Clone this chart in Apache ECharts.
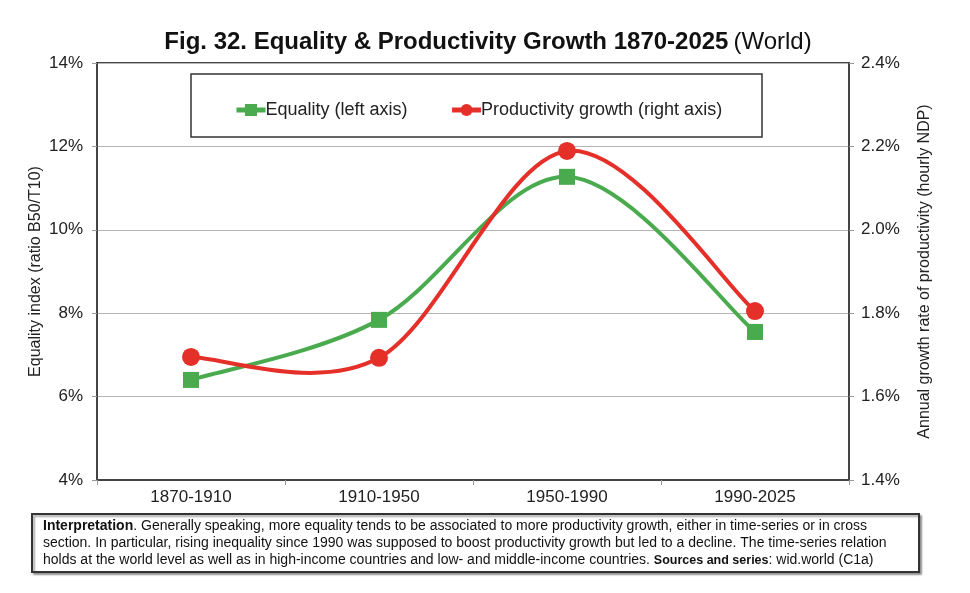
<!DOCTYPE html>
<html>
<head>
<meta charset="utf-8">
<script src="https://cdn.jsdelivr.net/npm/echarts@6/dist/echarts.min.js"></script>
<style>
  html, body { margin: 0; padding: 0; background: #fff; }
  #chart { width: 970px; height: 593px; }
</style>
</head>
<body>
<div id="chart"></div>
<script>
var categories = ['1870-1910', '1910-1950', '1950-1990', '1990-2025'];
var equality = [6.40, 7.84, 11.27, 7.55];
var productivity = [1.695, 1.693, 2.189, 1.805];

var green = '#4aab4e';
var red = '#e5302a';
var font = 'Liberation Sans, Arial, sans-serif';

var chart = echarts.init(document.getElementById('chart'));

// Excel-style smoothed line: cardinal spline through the points projected by the axes
function curveRenderer(values, color) {
    return function (params, api) {
        if (params.dataIndex !== 0) return;
        var pts = values.map(function (v, i) { return api.coord([i, v]); });
        var n = pts.length;
        var d = 'M' + pts[0][0] + ',' + pts[0][1];
        for (var i = 0; i < n - 1; i++) {
            var pa = pts[Math.max(i - 1, 0)], p0 = pts[i], p1 = pts[i + 1], pb = pts[Math.min(i + 2, n - 1)];
            var c1 = [p0[0] + (p1[0] - pa[0]) / 6, p0[1] + (p1[1] - pa[1]) / 6];
            var c2 = [p1[0] - (pb[0] - p0[0]) / 6, p1[1] - (pb[1] - p0[1]) / 6];
            d += ' C' + c1[0] + ',' + c1[1] + ' ' + c2[0] + ',' + c2[1] + ' ' + p1[0] + ',' + p1[1];
        }
        return {
            type: 'path',
            shape: { pathData: d },
            style: { fill: 'none', stroke: color, lineWidth: 4, lineJoin: 'round' }
        };
    };
}

var option = {
    backgroundColor: '#fff',
    textStyle: { fontFamily: font },
    title: {
        text: '{b|Fig. 32. Equality & Productivity Growth 1870-2025} {n|(World)}',
        left: 483,
        top: 25,
        textAlign: 'center',
        textStyle: {
            rich: {
                b: { fontSize: 24, fontWeight: 'bold', color: '#111', fontFamily: font },
                n: { fontSize: 24, fontWeight: 'normal', color: '#111', fontFamily: font }
            }
        }
    },
    legend: {
        left: 229,
        top: 96,
        itemWidth: 29,
        itemHeight: 15,
        itemGap: 42,
        lineStyle: { opacity: 1, width: 5 },
        textStyle: { fontSize: 18, color: '#222', fontFamily: font, padding: [0, 0, 0, -5] },
        data: ['Equality (left axis)', 'Productivity growth (right axis)']
    },
    grid: {
        left: 97, right: 121, top: 63, bottom: 113,
        show: true, borderColor: '#444', borderWidth: 2
    },
    xAxis: {
        type: 'category',
        data: categories,
        boundaryGap: true,
        axisLine: { lineStyle: { color: '#444', width: 2 } },
        axisTick: { show: true, length: 5, lineStyle: { color: '#999' } },
        axisLabel: { fontSize: 17, color: '#222', margin: 9 }
    },
    yAxis: [{
        type: 'value',
        min: 4, max: 14, interval: 2,
        name: 'Equality index (ratio B50/T10)',
        nameLocation: 'middle',
        nameGap: 53,
        nameMoveOverlap: false,
        nameTextStyle: { fontSize: 16, color: '#222' },
        axisLine: { show: true, lineStyle: { color: '#444', width: 2 } },
        axisTick: { show: true, length: 5, lineStyle: { color: '#999' } },
        axisLabel: { fontSize: 17, color: '#222', formatter: '{value}%', margin: 14 },
        splitLine: { lineStyle: { color: '#b5b5b5', width: 1 } }
    }, {
        type: 'value',
        min: 1.4, max: 2.4, interval: 0.2,
        name: 'Annual growth rate of productivity (hourly NDP)',
        nameLocation: 'middle',
        nameGap: 68,
        nameRotate: 90,
        nameTextStyle: { fontSize: 16, color: '#222' },
        axisLine: { show: true, lineStyle: { color: '#444', width: 2 } },
        axisTick: { show: true, length: 5, lineStyle: { color: '#999' } },
        axisLabel: {
            fontSize: 17, color: '#222', margin: 12,
            formatter: function (v) { return v.toFixed(1) + '%'; }
        },
        splitLine: { show: false }
    }],
    series: [{
        name: 'equality-curve',
        type: 'custom',
        yAxisIndex: 0,
        silent: true,
        data: equality.map(function (v, i) { return [i, v]; }),
        renderItem: curveRenderer(equality, green),
        z: 2
    }, {
        name: 'productivity-curve',
        type: 'custom',
        yAxisIndex: 1,
        silent: true,
        data: productivity.map(function (v, i) { return [i, v]; }),
        renderItem: curveRenderer(productivity, red),
        z: 3
    }, {
        name: 'Equality (left axis)',
        type: 'line',
        yAxisIndex: 0,
        data: equality,
        symbol: 'rect',
        symbolSize: 16,
        lineStyle: { color: green, width: 4, opacity: 0 },
        itemStyle: { color: green },
        z: 4
    }, {
        name: 'Productivity growth (right axis)',
        type: 'line',
        yAxisIndex: 1,
        data: productivity,
        symbol: 'circle',
        symbolSize: 18,
        lineStyle: { color: red, width: 4, opacity: 0 },
        itemStyle: { color: red },
        z: 5
    }],
    graphic: [{
        type: 'rect',
        shape: { x: 191, y: 74, width: 571, height: 63 },
        style: { fill: '#fff', stroke: '#333', lineWidth: 1.5 },
        z: 1
    }, {
        type: 'rect',
        shape: { x: 32, y: 514, width: 887, height: 58 },
        style: { fill: '#fff', stroke: '#333', lineWidth: 2, shadowColor: 'rgba(0,0,0,0.35)', shadowOffsetX: 2, shadowOffsetY: 2, shadowBlur: 2 }
    }, {
        type: 'text',
        left: 43, top: 518,
        style: {
            text: '{b|Interpretation}. Generally speaking, more equality tends to be associated to more productivity growth, either in time-series or in cross\n' +
                  'section. In particular, rising inequality since 1990 was supposed to boost productivity growth but led to a decline. The time-series relation\n' +
                  'holds at the world level as well as in high-income countries and low- and middle-income countries. {s|Sources and series}: wid.world (C1a)',
            font: '14px ' + font,
            fill: '#111',
            lineHeight: 17,
            rich: {
                b: { fontWeight: 'bold', fontSize: 14, fontFamily: font, fill: '#111', lineHeight: 17 },
                s: { fontWeight: 'bold', fontSize: 12.5, fontFamily: font, fill: '#111', lineHeight: 17 }
            }
        }
    }]
};

chart.setOption(option);
</script>
</body>
</html>
